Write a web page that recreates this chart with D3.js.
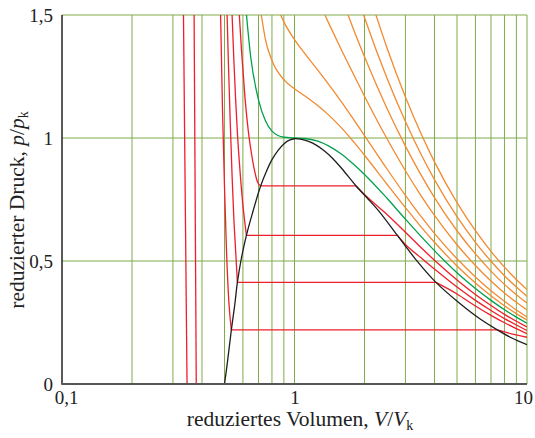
<!DOCTYPE html>
<html><head><meta charset="utf-8">
<script src="https://cdn.jsdelivr.net/npm/d3@7"></script>
<style>body{margin:0;background:#fff}svg{display:block}</style>
</head><body><svg id="c" width="535" height="438"></svg>
<script>
// ---- data ----
const xTickValues = [0.1, 1, 10];
const xTickLabels = ["0,1", "1", "10"];
const yTickValues = [0, 0.5, 1, 1.5];
const yTickLabels = ["0", "0,5", "1", "1,5"];
const gridV = [0.2,0.3,0.4,0.5,0.6,0.7,0.8,0.9,1,2,3,4,5,6,7,8,9,10];
const gridP = [0.5, 1, 1.5];

// supercritical isotherms (orange)
const iso105 = [[0.7,1.58],[0.72,1.5],[0.75,1.4],[0.8,1.315],[0.9,1.237],[1.0,1.2],[1.1,1.173],[1.25,1.134],[1.4,1.094],[1.6,1.039],[1.8,0.983],[2.0,0.93],[2.5,0.812],[3,0.717],[3.5,0.639],[4,0.576],[5,0.48],[6,0.411],[7,0.359],[8,0.318],[9,0.286],[10,0.26]];
const iso110 = [[0.85,1.525],[0.9,1.472],[1.0,1.4],[1.1,1.347],[1.25,1.28],[1.4,1.219],[1.6,1.144],[1.8,1.074],[2.0,1.01],[2.5,0.874],[3,0.767],[3.5,0.681],[4,0.6125],[5,0.509],[6,0.435],[7,0.379],[8,0.336],[9,0.301],[10,0.273]];
const iso120 = [[1.3,1.535],[1.4,1.469],[1.6,1.354],[1.8,1.256],[2.0,1.17],[2.5,0.997],[3,0.867],[3.5,0.766],[4,0.685],[5,0.566],[6,0.482],[7,0.419],[8,0.37],[9,0.332],[10,0.301]];
const iso130 = [[1.6,1.565],[1.8,1.438],[2.0,1.33],[2.5,1.12],[3,0.967],[3.5,0.85],[4,0.758],[5,0.623],[6,0.529],[7,0.459],[8,0.405],[9,0.363],[10,0.329]];
const iso140 = [[1.9,1.552],[2.0,1.49],[2.5,1.243],[3,1.067],[3.5,0.934],[4,0.831],[5,0.68],[6,0.576],[7,0.499],[8,0.44],[9,0.394],[10,0.356]];
const iso150 = [[2.2,1.523],[2.5,1.366],[3,1.167],[3.5,1.018],[4,0.903],[5,0.737],[6,0.623],[7,0.539],[8,0.475],[9,0.425],[10,0.384]];

// critical isotherm (green)
const isoCrit = [[0.6,1.667],[0.65,1.32],[0.7,1.155],[0.75,1.07],[0.8,1.028],[0.9,1.003],[1.0,1.0],[1.1,0.998],[1.25,0.988],[1.4,0.968],[1.6,0.933],[1.8,0.892],[2.0,0.852],[2.5,0.755],[3,0.67],[3.5,0.6],[4,0.542],[5,0.452],[6,0.388],[7,0.34],[8,0.302],[9,0.272],[10,0.247]];

// subcritical isotherms (red): liquid branch, gas branch
const red095Liquid = [[0.579,1.5],[0.592,1.352],[0.612,1.167],[0.632,1.033],[0.653,0.937],[0.673,0.868],[0.694,0.82],[0.715,0.805]];
const red095Gas = [[1.84,0.805],[2.0,0.77],[2.5,0.689],[3,0.617],[3.5,0.555],[4,0.503],[5,0.423],[6,0.364],[7,0.319],[8,0.283],[9,0.255],[10,0.232]];
const red090Liquid = [[0.539,1.5],[0.548,1.325],[0.558,1.16],[0.568,1.022],[0.584,0.857],[0.599,0.733],[0.61,0.665],[0.621,0.604]];
const red090Gas = [[2.77,0.604],[3,0.567],[3.5,0.513],[4,0.467],[5,0.394],[6,0.34],[7,0.299],[8,0.266],[9,0.24],[10,0.218]];
const red085Liquid = [[0.513,1.5],[0.52,1.296],[0.53,1.048],[0.539,0.845],[0.548,0.68],[0.558,0.545],[0.568,0.413]];
const red085Gas = [[4.06,0.413],[5,0.366],[6,0.317],[7,0.279],[8,0.249],[9,0.225],[10,0.204]];
const red080Liquid = [[0.481,1.5],[0.49,1.122],[0.50,0.8],[0.51,0.541],[0.522,0.334],[0.535,0.22]];
const red080Gas = [[7.45,0.22],[8.5,0.205],[10,0.19]];
// coexistence (tie) lines
const tieP = [0.805, 0.604, 0.413, 0.22];
const tieVl = [0.715, 0.621, 0.568, 0.535];
const tieVg = [1.84, 2.77, 4.06, 7.45];
// very low temperature isotherms (red, near-vertical)
const redLowA = [[0.333,1.5],[0.345,0]];
const redLowB = [[0.37,1.5],[0.378,0]];

// boundary curve (black)
const boundary = [[0.5,0],[0.5165,0.1],[0.535,0.22],[0.553,0.32],[0.568,0.413],[0.588,0.5],[0.621,0.604],[0.662,0.70],[0.715,0.805],[0.76,0.868],[0.80,0.912],[0.85,0.95],[0.90,0.976],[0.95,0.991],[1.0,0.997],[1.06,0.995],[1.15,0.986],[1.25,0.969],[1.35,0.946],[1.46,0.917],[1.6,0.875],[1.84,0.805],[2.05,0.757],[2.32,0.70],[2.77,0.604],[3.3,0.51],[4.06,0.413],[5.1,0.33],[6.2,0.268],[7.45,0.22],[8.6,0.187],[10,0.16]];

// ---- drawing ----
const W = 535, H = 438;
const m = {left: 62, right: 8, top: 15, bottom: 54};
const svg = d3.select("#c");
const x = d3.scaleLog().domain([0.1, 10]).range([m.left, W - m.right]);
const y = d3.scaleLinear().domain([0, 1.5]).range([H - m.bottom, m.top]);
const font = "'Liberation Serif', 'Times New Roman', serif";

svg.append("defs").append("clipPath").attr("id","clip")
  .append("rect").attr("x", m.left).attr("y", m.top)
  .attr("width", x(10) - m.left).attr("height", y(0) - m.top);

const gridColor = "#80ab4a";
const g = svg.append("g");
g.selectAll("line.gv").data(gridV).enter().append("line")
  .attr("x1", d => x(d)).attr("x2", d => x(d))
  .attr("y1", y(0)).attr("y2", y(1.5))
  .attr("stroke", gridColor).attr("stroke-width", 1);
g.selectAll("line.gp").data(gridP).enter().append("line")
  .attr("x1", x(0.1)).attr("x2", x(10))
  .attr("y1", d => y(d)).attr("y2", d => y(d))
  .attr("stroke", gridColor).attr("stroke-width", 1);

const line = d3.line().x(d => x(d[0])).y(d => y(d[1])).curve(d3.curveMonotoneX);
const smooth = d3.line().x(d => x(d[0])).y(d => y(d[1])).curve(d3.curveCatmullRom.alpha(0.5));
const plot = svg.append("g").attr("clip-path", "url(#clip)");
function draw(data, color, gen) {
  plot.append("path").attr("d", (gen || line)(data)).attr("fill", "none")
    .attr("stroke", color).attr("stroke-width", 1.3).attr("stroke-linejoin","round");
}
const orange = "#f28a30", red = "#ee1f2c", green = "#00a04e", black = "#1e1e1e";
[iso105, iso110, iso120, iso130, iso140, iso150].forEach(d => draw(d, orange));
draw(isoCrit, green);
[red095Liquid, red095Gas, red090Liquid, red090Gas, red085Liquid, red085Gas, red080Liquid, red080Gas, redLowA, redLowB].forEach(d => draw(d, red));
tieP.forEach((p, i) => draw([[tieVl[i], p], [tieVg[i], p]], red));
draw(boundary, black, smooth);

// axes lines
svg.append("line").attr("x1", x(0.1)).attr("x2", x(0.1)).attr("y1", y(1.5)).attr("y2", y(0))
  .attr("stroke", "#222").attr("stroke-width", 1.5);
svg.append("line").attr("x1", x(0.1) - 0.75).attr("x2", x(10)).attr("y1", y(0)).attr("y2", y(0))
  .attr("stroke", "#555").attr("stroke-width", 2);

// tick labels via d3 axes
const xAxis = d3.axisBottom(x).tickValues(xTickValues).tickSize(0).tickPadding(7)
  .tickFormat((d, i) => xTickLabels[i]);
const gx = svg.append("g").attr("transform", `translate(0,${y(0)})`).call(xAxis);
gx.select(".domain").remove();
gx.selectAll("text").attr("font-family", font).attr("font-size", 19).attr("fill", "#222")
  .attr("dx", (d, i) => i === 0 ? 4 : (i === xTickValues.length - 1 ? -4 : 0));

const yAxis = d3.axisLeft(y).tickValues(yTickValues).tickSize(0).tickPadding(9)
  .tickFormat((d, i) => yTickLabels[i]);
const gy = svg.append("g").attr("transform", `translate(${x(0.1)},0)`).call(yAxis);
gy.select(".domain").remove();
gy.selectAll("text").attr("font-family", font).attr("font-size", 19).attr("fill", "#222");

// axis titles
const xt = svg.append("text").attr("x", 300).attr("y", 426).attr("text-anchor", "middle")
  .attr("font-family", font).attr("font-size", 21.5).attr("fill", "#222");
xt.append("tspan").text("reduziertes Volumen, ");
xt.append("tspan").attr("font-style", "italic").text("V");
xt.append("tspan").text("/");
xt.append("tspan").attr("font-style", "italic").text("V");
xt.append("tspan").attr("font-size", 14).attr("dy", 4).text("k");

const yt = svg.append("text").attr("transform", "translate(24,210) rotate(-90)").attr("text-anchor", "middle")
  .attr("font-family", font).attr("font-size", 21.5).attr("fill", "#222");
yt.append("tspan").text("reduzierter Druck, ");
yt.append("tspan").attr("font-style", "italic").text("p");
yt.append("tspan").text("/");
yt.append("tspan").attr("font-style", "italic").text("p");
yt.append("tspan").attr("font-size", 14).attr("dy", 4).text("k");
</script></body></html>
